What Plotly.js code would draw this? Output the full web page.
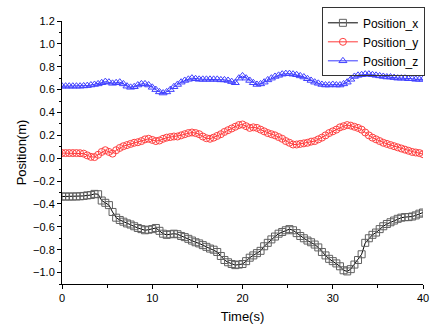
<!DOCTYPE html>
<html><head><meta charset="utf-8">
<script src="https://cdn.plot.ly/plotly-3.0.1.min.js"></script>
<style>html,body{margin:0;padding:0;background:#fff}#chart{width:432px;height:329px}</style>
</head><body><div id="chart"></div>
<script>
// time step 0.4 s, 0..40 s
var timeStep = 0.4;
var posX = [-0.335,-0.335,-0.335,-0.335,-0.334,-0.333,-0.330,-0.325,-0.322,-0.312,
-0.315,-0.37,-0.39,-0.41,-0.47,-0.52,-0.54,-0.555,-0.57,-0.58,
-0.595,-0.61,-0.62,-0.63,-0.625,-0.62,-0.61,-0.635,-0.66,-0.67,
-0.665,-0.66,-0.665,-0.68,-0.69,-0.705,-0.72,-0.735,-0.745,-0.76,
-0.775,-0.79,-0.80,-0.82,-0.855,-0.89,-0.91,-0.925,-0.935,-0.93,
-0.925,-0.90,-0.87,-0.85,-0.83,-0.81,-0.77,-0.74,-0.71,-0.685,
-0.66,-0.645,-0.63,-0.62,-0.63,-0.655,-0.68,-0.70,-0.72,-0.735,
-0.755,-0.78,-0.82,-0.85,-0.88,-0.90,-0.92,-0.945,-0.98,-0.99,
-0.97,-0.93,-0.89,-0.84,-0.74,-0.70,-0.67,-0.65,-0.62,-0.595,
-0.575,-0.56,-0.545,-0.53,-0.52,-0.515,-0.515,-0.51,-0.50,-0.485,-0.475];
var posY = [0.045,0.045,0.045,0.045,0.045,0.044,0.04,0.025,0.012,0.01,
0.03,0.055,0.07,0.055,0.04,0.07,0.09,0.105,0.115,0.125,
0.135,0.14,0.15,0.165,0.17,0.16,0.15,0.155,0.17,0.18,
0.185,0.19,0.19,0.20,0.21,0.22,0.225,0.22,0.21,0.19,
0.175,0.17,0.18,0.195,0.21,0.23,0.245,0.26,0.275,0.29,
0.295,0.28,0.265,0.27,0.265,0.25,0.235,0.22,0.21,0.20,
0.185,0.17,0.15,0.135,0.12,0.12,0.125,0.13,0.135,0.145,
0.15,0.165,0.18,0.20,0.22,0.235,0.25,0.27,0.28,0.29,
0.285,0.275,0.265,0.25,0.225,0.20,0.18,0.165,0.15,0.135,
0.125,0.115,0.105,0.095,0.085,0.075,0.065,0.055,0.05,0.045,0.035];
var posZ = [0.63,0.63,0.63,0.63,0.63,0.63,0.632,0.635,0.64,0.645,
0.65,0.66,0.67,0.665,0.655,0.66,0.665,0.65,0.63,0.62,
0.625,0.64,0.65,0.65,0.64,0.62,0.60,0.58,0.57,0.58,
0.60,0.625,0.645,0.665,0.68,0.69,0.70,0.695,0.69,0.69,
0.69,0.69,0.69,0.69,0.685,0.685,0.68,0.67,0.66,0.70,
0.72,0.70,0.68,0.66,0.645,0.65,0.665,0.685,0.70,0.715,
0.725,0.735,0.74,0.74,0.735,0.73,0.72,0.71,0.695,0.68,
0.665,0.655,0.645,0.64,0.64,0.645,0.64,0.64,0.65,0.665,
0.69,0.715,0.725,0.73,0.735,0.735,0.73,0.725,0.72,0.715,
0.71,0.71,0.705,0.70,0.70,0.70,0.695,0.695,0.69,0.69,0.69];
var seriesNames = ['Position_x','Position_y','Position_z'];
var timeVals = posX.map(function(_, i){ return +(i*timeStep).toFixed(2); });

var styles = [
  {line:'#000000', mk:'#606060', sym:'square-open', size:7},
  {line:'#ff3a3a', mk:'#ff4040', sym:'circle-open', size:7},
  {line:'#3a3aff', mk:'#4040ff', sym:'triangle-up-open', size:7}
];
var dataSets = [posX, posY, posZ];
var traces = dataSets.map(function(d, k){
  return {x: timeVals, y: d, name: seriesNames[k], type:'scatter', mode:'lines+markers',
    line:{color:styles[k].line, width:1},
    marker:{symbol:styles[k].sym, size:styles[k].size, color:styles[k].mk, line:{color:styles[k].mk, width:1}}};
});
var font = 'Arial, "Liberation Sans", sans-serif';
var layout = {
  width:432, height:329,
  margin:{l:62, r:7, t:15, b:45},
  paper_bgcolor:'#fff', plot_bgcolor:'#fff',
  font:{family:font, color:'#000'},
  showlegend:true,
  legend:{x:0.72, y:1.052, xanchor:'left', yanchor:'top', bgcolor:'rgba(255,255,255,0)', bordercolor:'#333', borderwidth:1,
    font:{family:font, size:12, color:'#000'}, tracegroupgap:0, itemwidth:30},
  xaxis:{range:[0,40], dtick:10, tick0:0, showgrid:false, zeroline:false, showline:true, linecolor:'#000', linewidth:1,
    ticks:'outside', ticklen:4, tickcolor:'#000', tickfont:{family:font, size:11}, ticklabeloverflow:'allow',
    minor:{dtick:5, ticks:'outside', ticklen:3, tickcolor:'#000'},
    title:{text:'Time(s)', font:{family:font, size:13}, standoff:8}},
  yaxis:{range:[-1.1,1.2], dtick:0.2, tick0:0, tickformat:'.1f', showgrid:false, zeroline:false, showline:true, linecolor:'#000', linewidth:1,
    ticks:'outside', ticklen:4, tickcolor:'#000', tickfont:{family:font, size:11},
    minor:{dtick:0.1, ticks:'outside', ticklen:2, tickcolor:'#000'},
    title:{text:'Position(m)', font:{family:font, size:13}, standoff:3}}
};
Plotly.newPlot('chart', traces, layout, {displayModeBar:false, staticPlot:true});
</script></body></html>
